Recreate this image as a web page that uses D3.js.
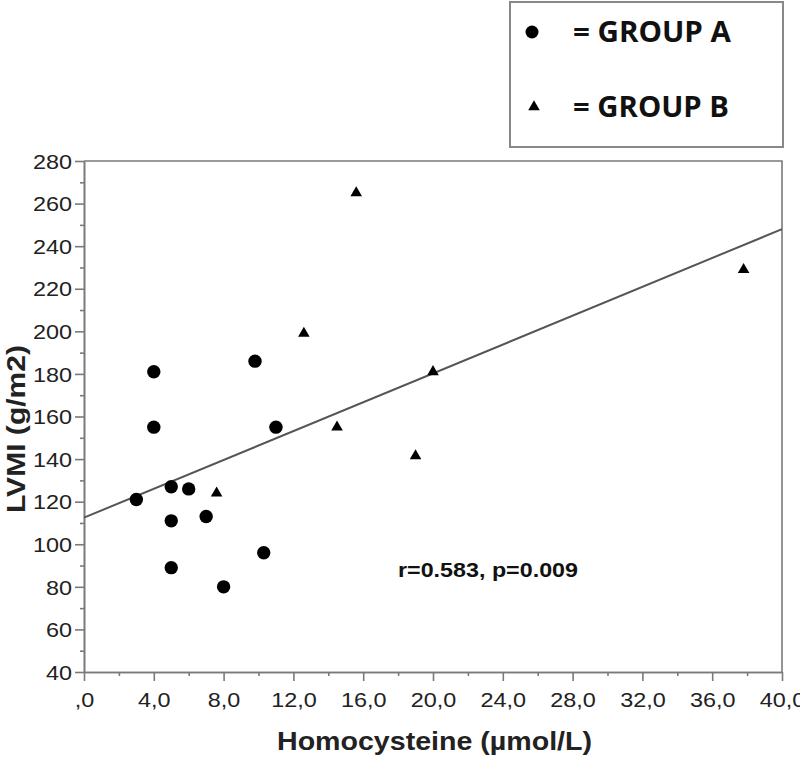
<!DOCTYPE html>
<html>
<head>
<meta charset="utf-8">
<script src="https://cdn.jsdelivr.net/npm/d3@7"></script>
<style>
  html, body { margin: 0; padding: 0; background: #fff; }
  svg { display: block; }
</style>
</head>
<body>
<svg id="chart" width="800" height="760"></svg>
<script>
// ---- Data ----
const groupA_hcy  = [3.0, 4.0, 4.0, 5.0, 5.0, 5.0, 6.0, 7.0, 8.0, 9.8, 10.3, 11.0];
const groupA_lvmi = [121, 181, 155, 127, 111, 89, 126, 113, 80, 186, 96, 155];
const groupB_hcy  = [7.6, 12.6, 14.5, 15.6, 19.0, 20.0, 37.8];
const groupB_lvmi = [124, 199, 155, 265, 141.5, 181, 229];
const fitX = [0, 40];
const fitY = [112.5, 248];
const xTicks = [0, 4, 8, 12, 16, 20, 24, 28, 32, 36, 40];
const yTicks = [40, 60, 80, 100, 120, 140, 160, 180, 200, 220, 240, 260, 280];
const xTickLabels = [",0", "4,0", "8,0", "12,0", "16,0", "20,0", "24,0", "28,0", "32,0", "36,0", "40,0"];
const legendLabels = ["= GROUP A", "= GROUP B"];
const annotation = "r=0.583, p=0.009";
const xTitle = "Homocysteine (\u00b5mol/L)";
const yTitle = "LVMI (g/m2)";

// ---- Layout ----
const svg = d3.select("#chart");
const L = 84, R = 782, T = 161, B = 672;
const x = d3.scaleLinear().domain([0, 40]).range([L, R]);
const y = d3.scaleLinear().domain([40, 280]).range([B, T]);
const axisColor = "#7a7a7a";
const font = "'Liberation Sans', Arial, sans-serif";

// widen text horizontally (reference text is rendered wider than Arial)
function stretch(sel, k) {
  sel.each(function () {
    const len = this.getComputedTextLength();
    d3.select(this).attr("textLength", len * k).attr("lengthAdjust", "spacingAndGlyphs");
  });
}
function fitTo(sel, w) {
  sel.attr("textLength", w).attr("lengthAdjust", "spacingAndGlyphs");
}

// frame (top & right)
svg.append("path")
  .attr("d", `M${L},${T}H${R}V${B}`)
  .attr("fill", "none").attr("stroke", axisColor).attr("stroke-width", 1.6);

// minor ticks
const yMinor = d3.range(50, 280, 20);
const xMinor = d3.range(2, 40, 4);

const yAxis = svg.append("g").attr("transform", `translate(${L},0)`)
  .call(d3.axisLeft(y).tickValues(yTicks).tickSize(9).tickSizeOuter(0).tickPadding(3).tickFormat(d3.format("d")));
const yAxisMinor = svg.append("g").attr("transform", `translate(${L},0)`)
  .call(d3.axisLeft(y).tickValues(yMinor).tickSize(4).tickSizeOuter(0).tickFormat(""));
const xAxis = svg.append("g").attr("transform", `translate(0,${B})`)
  .call(d3.axisBottom(x).tickValues(xTicks).tickSize(9).tickSizeOuter(0).tickPadding(12)
    .tickFormat((d, i) => xTickLabels[i]));
const xAxisMinor = svg.append("g").attr("transform", `translate(0,${B})`)
  .call(d3.axisBottom(x).tickValues(xMinor).tickSize(4).tickSizeOuter(0).tickFormat(""));

[yAxis, yAxisMinor, xAxis, xAxisMinor].forEach(g => {
  g.select(".domain").attr("stroke", axisColor).attr("stroke-width", 1.6);
  g.selectAll(".tick line").attr("stroke", axisColor).attr("stroke-width", 1.6);
  g.selectAll(".tick text").attr("fill", "#222").style("font-family", font).style("font-size", "20px");
});
yAxis.selectAll(".tick text").attr("dy", "0.36em");
stretch(yAxis.selectAll(".tick text"), 1.17);
stretch(xAxis.selectAll(".tick text"), 1.17);

// regression line
svg.append("line")
  .attr("x1", x(fitX[0])).attr("y1", y(fitY[0]))
  .attr("x2", x(fitX[1])).attr("y2", y(fitY[1]))
  .attr("stroke", "#555").attr("stroke-width", 2);

// group A circles
svg.append("g").selectAll("circle")
  .data(groupA_hcy.map((h, i) => [h, groupA_lvmi[i]]))
  .join("circle")
  .attr("cx", d => x(d[0])).attr("cy", d => y(d[1]))
  .attr("r", 6.7).attr("fill", "#000");

// group B triangles
const tri = d3.symbol().type(d3.symbolTriangle).size(58);
svg.append("g").selectAll("path")
  .data(groupB_hcy.map((h, i) => [h, groupB_lvmi[i]]))
  .join("path")
  .attr("d", tri)
  .attr("transform", d => `translate(${x(d[0])},${y(d[1])})`)
  .attr("fill", "#000");

// annotation
const ann = svg.append("text")
  .attr("x", 398).attr("y", 577)
  .style("font-family", font).style("font-weight", "bold").style("font-size", "20px")
  .attr("fill", "#111")
  .text(annotation);
fitTo(ann, 180);

// axis titles
const xt = svg.append("text")
  .attr("x", 434.5).attr("y", 750).attr("text-anchor", "middle")
  .style("font-family", font).style("font-weight", "bold").style("font-size", "25px")
  .attr("fill", "#222").text(xTitle);
fitTo(xt, 315);
const yt = svg.append("text")
  .attr("transform", "translate(25,429) rotate(-90)").attr("text-anchor", "middle")
  .style("font-family", font).style("font-weight", "bold").style("font-size", "25px")
  .attr("fill", "#222").text(yTitle);
fitTo(yt, 168);

// legend
const lg = svg.append("g");
lg.append("rect").attr("x", 510).attr("y", 2).attr("width", 273).attr("height", 145)
  .attr("fill", "#fff").attr("stroke", "#888").attr("stroke-width", 2);
lg.append("circle").attr("cx", 532).attr("cy", 32).attr("r", 6.5).attr("fill", "#000");
lg.append("path").attr("d", tri).attr("transform", "translate(534,107)").attr("fill", "#000");
const lt = lg.selectAll("text.lbl").data(legendLabels).join("text")
  .attr("class", "lbl")
  .attr("x", 573).attr("y", (d, i) => [42, 117][i])
  .style("font-family", "'Open Sans', sans-serif").style("font-weight", "bold").style("font-size", "29px")
  .attr("fill", "#111").text(d => d);
lt.each(function (d, i) { fitTo(d3.select(this), [158, 156][i]); });
</script>
</body>
</html>
